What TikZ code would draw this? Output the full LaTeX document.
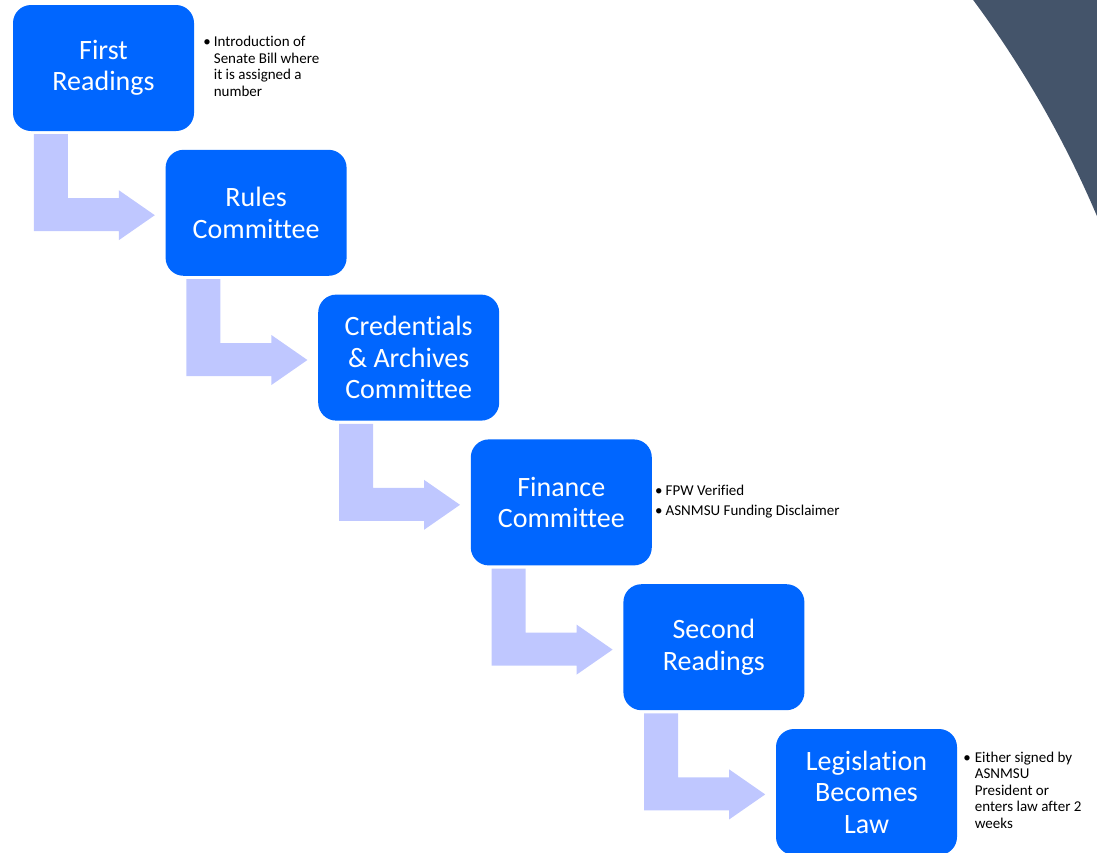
\documentclass[tikz,border=0pt]{standalone}
\usepackage{fontspec}
\setmainfont{Carlito}[Ligatures=CommonOff]
\definecolor{stageblue}{RGB}{0,102,255}
\definecolor{flowlilac}{RGB}{191,199,255}
\definecolor{slateblue}{RGB}{68,84,106}
\usetikzlibrary{calc, positioning}

\tikzset{
  stagebox/.style={fill=stageblue, rounded corners=18pt, minimum width=181pt,
    minimum height=126pt, inner sep=0pt, text=white, align=center,
    font=\fontsize{28}{31.5}\selectfont},
  notetext/.style={inner sep=0pt, font=\fontsize{15}{16.5}\selectfont},
  flowarrow/.style={fill=flowlilac}
}

\begin{document}
\begin{tikzpicture}[x=1pt, y=-1pt]
  \useasboundingbox (0,0) rectangle (1097,852);

  % dark arc in the upper right corner
  \begin{scope}
    \clip (800,0) rectangle (1097,300);
    \fill[slateblue, even odd rule] (780,-20) rectangle (1120,320)
      (126.7,627.5) circle[radius=1053.6pt];
  \end{scope}

  % the stages, stepping down to the right
  \foreach \i/\txt in {
      1/First\\Readings,
      2/Rules\\Committee,
      3/Credentials\\\& Archives\\Committee,
      4/Finance\\Committee,
      5/Second\\Readings,
      6/Legislation\\Becomes\\Law
  } {
    \node[stagebox] (stage\i) at ({103.5+152.6*(\i-1)}, {68+144.8*(\i-1)}) {\txt};
  }

  % bent arrows from each stage to the next
  \foreach \i in {1,...,5} {
    \fill[flowarrow] ($(stage\i.south west)+(21,3)$) -- ++(34,0) -- ++(0,64)
      -- ++(51,0) -- ++(0,-8) -- ++(36,25) -- ++(-36,25) -- ++(0,-9)
      -- ++(-85,0) -- cycle;
  }

  % side notes
  \node[notetext, right=9pt of stage1.east] (note1) {%
    \begin{tabular}{@{}l@{\hspace{3pt}}l@{}}
      \textbullet & Introduction of\\
                  & Senate Bill where\\
                  & it is assigned a\\
                  & number
    \end{tabular}};
  \node[notetext, right=3pt of stage4.east] (note4) {%
    \begin{tabular}{@{}l@{\hspace{3pt}}l@{}}
      \textbullet & FPW Verified\\[3.5pt]
      \textbullet & ASNMSU Funding Disclaimer
    \end{tabular}};
  \node[notetext, right=6pt of stage6.east] (note6) {%
    \begin{tabular}{@{}l@{\hspace{4pt}}l@{}}
      \textbullet & Either signed by\\
                  & ASNMSU\\
                  & President or\\
                  & enters law after 2\\
                  & weeks
    \end{tabular}};
\end{tikzpicture}
\end{document}
